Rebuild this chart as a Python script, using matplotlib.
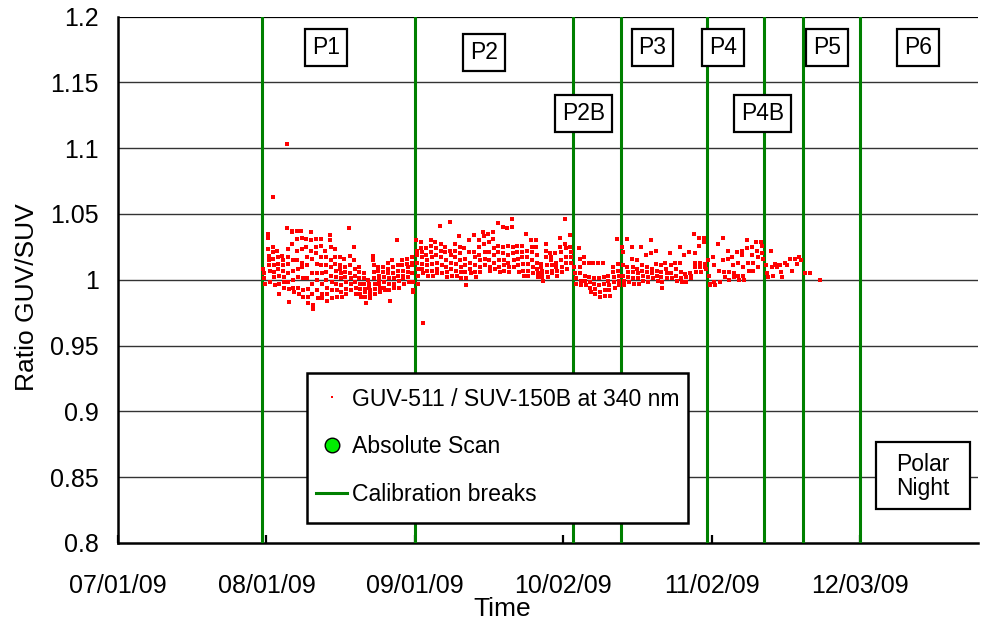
import matplotlib
matplotlib.use('Agg')
import matplotlib.pyplot as plt
import matplotlib.dates as mdates
from matplotlib.lines import Line2D
from matplotlib.patches import Rectangle
from matplotlib.ticker import FixedLocator, FuncFormatter
import datetime as dt

plt.rcParams['font.family'] = ['Liberation Sans', 'DejaVu Sans']

START = dt.datetime(2009, 7, 1)

# ratio deviations from 1 in units of 0.001, per day (day 0 = 07/01/09)
p1 = [
    (30, [8, 5, 1, -3]),
    (31, [35, 32, 23, 18, 15, 11, 7, -2]),
    (32, [63, 25, 21, 16, 11, 6, 2, -4]),
    (33, [22, 17, 12, 8, 3, -3, -11]),
    (34, [18, 15, 11, 7, 2, -2, -6]),
    (35, [103, 39, 23, 17, 12, 5, -2, -7, -17]),
    (36, [37, 36, 27, 15, 7, 0, -6, -9]),
    (37, [37, 31, 22, 15, 8, 2, -6, -11]),
    (38, [37, 32, 23, 13, 10, 1, -8, -13]),
    (39, [31, 25, 17, 11, 1, -7, -13, -18]),
    (40, [36, 30, 22, 16, 5, -3, -11, -19, -22]),
    (41, [31, 25, 20, 12, 5, 0, -8, -14]),
    (42, [31, 26, 17, 11, 5, -3, -11, -14]),
    (43, [22, 17, 11, 6, 0, -6, -11, -16]),
    (44, [34, 30, 25, 15, 10, 3, -2, -8, -14]),
    (45, [23, 17, 12, 7, 2, -3, -8, -13]),
    (46, [17, 11, 8, 5, 1, -4, -9, -13]),
    (47, [16, 10, 6, 2, -2, -7, -11]),
    (48, [39, 18, 11, 5, 1, -3, -8]),
    (49, [25, 15, 8, 3, -2, -6, -11]),
    (50, [10, 6, 1, -3, -7, -11, -13]),
    (51, [5, 1, -3, -7, -9, -13, -18]),
    (52, [0, -3, -6, -8, -11, -14]),
    (53, [18, 15, 11, 6, 1, -3, -7, -11]),
    (54, [10, 7, 3, 0, -3, -6, -9]),
    (55, [10, 6, 2, -2, -6, -8]),
    (56, [13, 8, 5, 1, -3, -8, -16]),
    (57, [15, 10, 5, 1, -3, -6]),
    (58, [30, 11, 7, 3, -1, -6]),
    (59, [15, 11, 7, 3, 1, -3]),
    (60, [16, 12, 10, 6, 2, -2]),
    (61, [17, 13, 11, 5, -2, -8, -9]),
]
p2 = [
    (62, [30, 22, 19, 13, 8, 3, -3]),
    (63, [29, 24, 21, 17, 12, 8, 5, -33]),
    (64, [24, 19, 15, 11, 7, 3]),
    (65, [30, 26, 21, 17, 12, 7, 3]),
    (66, [29, 24, 19, 13, 8, 5]),
    (67, [41, 27, 22, 17, 11, 5]),
    (68, [25, 21, 15, 10, 6, 2]),
    (69, [44, 22, 19, 13, 8, 3]),
    (70, [27, 22, 17, 12, 7, 3]),
    (71, [33, 25, 20, 15, 10, 6, 1]),
    (72, [24, 16, 11, 6, 1, -4]),
    (73, [30, 21, 13, 8, 5]),
    (74, [34, 21, 17, 11, 6, 2]),
    (75, [30, 25, 19, 15, 10, 6]),
    (76, [36, 33, 27, 21, 16, 11]),
    (77, [35, 29, 21, 15, 10, 7]),
    (78, [36, 31, 24, 19, 13, 8]),
    (79, [43, 26, 21, 15, 10, 6]),
    (80, [40, 25, 20, 15, 11, 7]),
    (81, [39, 26, 19, 13, 10, 6]),
    (82, [46, 40, 25, 20, 15, 10]),
    (83, [26, 21, 16, 11, 6]),
    (84, [26, 21, 17, 12, 7, 3]),
    (85, [35, 22, 17, 12, 7, 3]),
    (86, [30, 25, 21, 15, 10, 5]),
    (87, [30, 25, 19, 13, 8, 5, 2]),
    (88, [12, 10, 7, 5, 2, -1]),
    (89, [27, 22, 17, 11, 6, 2]),
    (90, [20, 17, 15, 11, 7, 5]),
    (91, [20, 13, 10, 7, 3]),
    (92, [32, 25, 21, 15, 10, 6]),
    (93, [46, 27, 24, 17, 13, 8]),
    (94, [34, 25, 21, 17, 13]),
]
p2b = [
    (95, [10, 5, 1, -3]),
    (96, [24, 16, 10, 5, -1, -4]),
    (97, [17, 13, 3, -1, -4]),
    (98, [13, 2, -2, -6, -9]),
    (99, [13, 1, -3, -7, -11]),
    (100, [13, 1, -4, -9, -13]),
    (101, [13, 2, -3, -8, -12]),
    (102, [3, -1, -4, -8, -12]),
    (103, [10, 6, 2, -2, -6]),
    (104, [31, 12, 7, 3, -1, -4]),
]
p3 = [
    (105, [25, 21, 11, 3, -1, -4]),
    (106, [31, 10, 6, 2, -2]),
    (107, [25, 16, 10, 6, 1, -3]),
    (108, [15, 8, 5, 1, -3]),
    (109, [25, 11, 7, 3, -1]),
    (110, [19, 10, 6, 2, -2]),
    (111, [30, 20, 8, 5, 1]),
    (112, [22, 12, 7, 3, -1]),
    (113, [11, 6, 2, -2, -6]),
    (114, [13, 8, 5, 1]),
    (115, [20, 11, 5, 1]),
    (116, [13, 8, 3, -1]),
    (117, [25, 13, 6, 1, -2]),
    (118, [19, 4, 2, -2]),
    (119, [21, 5, 3, 1]),
    (120, [35, 20, 13, 10, 6]),
    (121, [32, 26, 13, 10, 6]),
    (122, [32, 29, 12, 10, 8]),
]
p4 = [
    (123, [15, 3, -3, -4]),
    (124, [17, 11, -2, -4]),
    (125, [27, 7, -2]),
    (126, [32, 15, 6, 2]),
    (127, [22, 16, 6, 0]),
    (128, [17, 11, 5, 2]),
    (129, [21, 13, 3, 0]),
    (130, [22, 19, 10, 3, 0]),
    (131, [30, 24, 13, 7]),
    (132, [25, 19, 13, 7]),
    (133, [29, 22, 17, 10]),
    (134, [29, 26, 20, 16]),
]
p4b = [
    (135, [11, 5, 2]),
    (136, [22, 10, 3]),
    (137, [12, 11, 10]),
    (138, [11, 6, 2]),
    (139, [13, 11]),
    (140, [16, 7]),
    (141, [16, 12]),
    (142, [17, 15]),
]
p5 = [
    (143, [5]),
    (144, [5]),
    (146, [0]),
]

break_days = [30, 62, 95, 105, 123, 135, 143, 155]
period_labels = ['P1', 'P2', 'P3', 'P4', 'P5', 'P6', 'P2B', 'P4B']
period_label_days = [43.4, 76.4, 111.6, 126.4, 148.0, 167.0, 97.3, 134.6]
period_label_vals = [1.1766, 1.1728, 1.1766, 1.1766, 1.1766, 1.1766, 1.1261, 1.1261]
polar_day, polar_val = 168.0, 0.8505

x_ticks = [dt.datetime(2009, 7, 1), dt.datetime(2009, 8, 1), dt.datetime(2009, 9, 1),
           dt.datetime(2009, 10, 2), dt.datetime(2009, 11, 2), dt.datetime(2009, 12, 3)]
y_ticks = [0.8, 0.85, 0.9, 0.95, 1.0, 1.05, 1.1, 1.15, 1.2]

# ---- build points ----
xs, ys = [], []
for period in (p1, p2, p2b, p3, p4, p4b, p5):
    for day, devs in period:
        n = len(devs)
        for i, d in enumerate(devs):
            frac = 0.5 if n == 1 else 0.3 + 0.4 * i / (n - 1)
            xs.append(START + dt.timedelta(days=day + frac))
            ys.append(1 + d / 1000.0)

W, H = 981, 626
fig = plt.figure(figsize=(W / 100, H / 100), dpi=100)
ax = fig.add_axes([118 / W, 83 / H, 860 / W, 526.5 / H])

for yv in y_ticks[1:-1]:
    ax.axhline(yv, color='#333333', lw=1.0, zorder=1)
ax.axhline(1.2, color='black', lw=1.6, zorder=1)

for bd in break_days:
    ax.axvline(START + dt.timedelta(days=bd), color='#008000', lw=2.2, zorder=3)

ax.plot(xs, ys, ls='none', marker='s', ms=3.1, mew=0, color='red', zorder=4)

ax.set_xlim(START, START + dt.timedelta(days=179.6))
ax.set_ylim(0.8, 1.2)
ax.xaxis.set_major_locator(FixedLocator([mdates.date2num(t) for t in x_ticks]))
ax.xaxis.set_major_formatter(mdates.DateFormatter('%m/%d/%y'))
ax.yaxis.set_major_locator(FixedLocator(y_ticks))
ax.yaxis.set_major_formatter(FuncFormatter(lambda v, p: ('%.2f' % v).rstrip('0').rstrip('.')))

ax.tick_params(axis='x', direction='in', length=6, width=1.6, labelsize=18, pad=22)
ax.tick_params(axis='y', direction='in', length=0, labelsize=18, pad=14)
for s in ('left', 'bottom'):
    ax.spines[s].set_linewidth(1.8)
ax.spines['top'].set_visible(False)
ax.spines['right'].set_visible(False)

ax.set_xlabel('Time', fontsize=19)
ax.xaxis.set_label_coords((502 - 118) / 860, -(609 - 543) / 526.5)
ax.xaxis.label.set_va('center')
ax.set_ylabel('Ratio GUV/SUV', fontsize=19)
ax.yaxis.set_label_coords((27 - 118) / 860, (543 - 297) / 526.5)
ax.yaxis.label.set_va('center')

box = dict(boxstyle='square,pad=0.3', fc='white', ec='black', lw=1.6)
for lab, d, v in zip(period_labels, period_label_days, period_label_vals):
    ax.text(START + dt.timedelta(days=d), v, lab, fontsize=16.5, ha='center', va='center',
            bbox=box, zorder=6)

# Polar Night box
ax.add_patch(Rectangle(((876 - 118) / 860, (543 - 509) / 526.5), 94 / 860, 67 / 526.5,
                       transform=ax.transAxes, fc='white', ec='black', lw=1.6, zorder=6))
ax.text(START + dt.timedelta(days=polar_day), polar_val, 'Polar\nNight', fontsize=16.5,
        ha='center', va='center', linespacing=1.05, zorder=7)

# legend frame drawn separately for exact size
fig.patches.append(Rectangle((306.7 / W, 1 - 522.7 / H), 381.6 / W, 150 / H,
                             transform=fig.transFigure, fc='white', ec='black', lw=1.8,
                             zorder=9))
handles = [
    Line2D([], [], ls='none', marker='s', ms=2.0, mew=0, color='red'),
    Line2D([], [], ls='none', marker='o', ms=10.5, mfc='#00ee00', mec='black', mew=1.0),
    Line2D([], [], color='#008000', lw=2.2),
]
labels = ['GUV-511 / SUV-150B at 340 nm', 'Absolute Scan', 'Calibration breaks']
leg = fig.legend(handles, labels, loc='upper left',
                 bbox_to_anchor=(316 / W, 1 - 387.5 / H), fontsize=16.6,
                 frameon=False, handlelength=1.35, handletextpad=0.2,
                 labelspacing=1.08, borderpad=0, borderaxespad=0)
leg.set_zorder(10)

fig.savefig('out.png', dpi=100)
